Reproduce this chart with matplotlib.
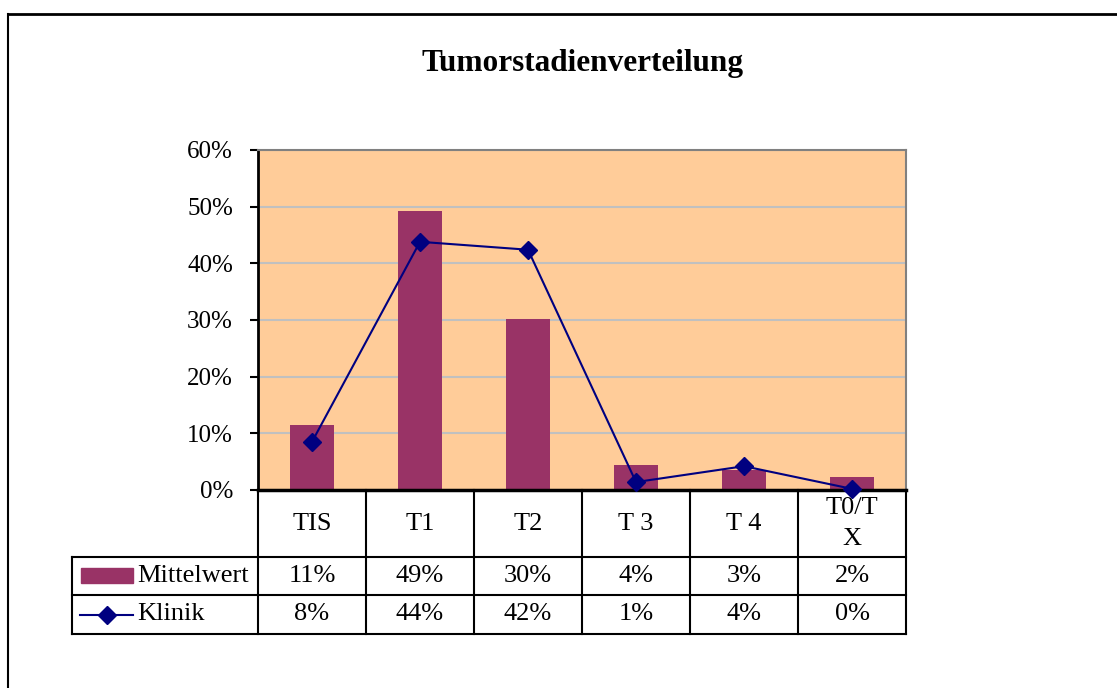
import matplotlib.pyplot as plt
from matplotlib.lines import Line2D
from matplotlib.patches import Rectangle

categories = ['TIS', 'T1', 'T2', 'T 3', 'T 4', 'T0/T\nX']
mittelwert = [11.5, 49.2, 30.2, 4.4, 3.5, 2.3]
klinik = [8.5, 43.8, 42.4, 1.4, 4.2, 0.2]
mittel_labels = ['11%', '49%', '30%', '4%', '3%', '2%']
klinik_labels = ['8%', '44%', '42%', '1%', '4%', '0%']
yticks = [0, 10, 20, 30, 40, 50, 60]

W, H = 1117, 688
BAR = '#993366'
LINE = '#000080'
FONT = 'Liberation Serif'


def fx(px):
    return px / W


def fy(py):
    return 1 - py / H


def main():
    fig = plt.figure(figsize=(W / 100, H / 100), dpi=100)

    # outer chart border (left and top only visible)
    fig.add_artist(Line2D([fx(8), fx(8)], [fy(14), 0], color='black', lw=1.5))
    fig.add_artist(Line2D([fx(8), 1], [fy(14), fy(14)], color='black', lw=2))

    fig.text(fx(583), fy(64), 'Tumorstadienverteilung', ha='center', va='center',
             fontsize=22.5, fontweight='bold', family=FONT)

    # plot area
    left, right, top, bottom = 258, 906, 150, 490
    ax = fig.add_axes([fx(left), fy(bottom), fx(right - left), (bottom - top) / H])
    ax.set_facecolor('#FFCC99')
    x = list(range(len(categories)))
    ax.bar(x, mittelwert, width=0.41, color=BAR, zorder=2)
    ax.plot(x, klinik, color=LINE, lw=1.5, marker='D', markersize=9, zorder=3, clip_on=False)
    ax.set_xlim(-0.5, len(categories) - 0.5)
    ax.set_ylim(0, 60)
    ax.set_yticks(yticks)
    ax.set_yticklabels([f'{v}%' for v in yticks], family=FONT, fontsize=18)
    ax.yaxis.grid(True, color='#c0c0c0', lw=1.5, zorder=1)
    ax.set_axisbelow(True)
    ax.set_xticks([])
    ax.tick_params(axis='y', length=6, width=1.5, direction='out', pad=12)
    ax.spines['left'].set_linewidth(2)
    ax.spines['bottom'].set_linewidth(2.5)
    for s in ['top', 'right']:
        ax.spines[s].set_color('#808080')
        ax.spines[s].set_linewidth(1.5)

    # data table below the plot
    tleft, tbottom = 72, 634
    rows = [490, 557, 595, 634]
    unit = (right - left) / len(categories)
    x0 = -0.5 - (left - tleft) / unit
    tax = fig.add_axes([fx(tleft), fy(tbottom), fx(right - tleft), (tbottom - bottom) / H])
    tax.set_xlim(x0, len(categories) - 0.5)
    tax.set_ylim(tbottom, bottom)
    tax.axis('off')
    kw = dict(color='black', lw=1.5, clip_on=False)
    for i in range(len(categories) + 1):
        tax.plot([i - 0.5, i - 0.5], [rows[0], rows[3]], **kw)
    tax.plot([x0, x0], [rows[1], rows[3]], **kw)
    for r in rows[1:]:
        tax.plot([x0, len(categories) - 0.5], [r, r], **kw)

    tk = dict(ha='center', va='center', family=FONT, fontsize=19)
    for i, c in enumerate(categories):
        tax.text(i, (rows[0] + rows[1]) / 2, c, linespacing=1.5, **tk)
        tax.text(i, (rows[1] + rows[2]) / 2, mittel_labels[i], **tk)
        tax.text(i, (rows[2] + rows[3]) / 2, klinik_labels[i], **tk)

    # legend keys inside the table
    def px(p):
        return x0 + (p - tleft) / unit

    tax.add_patch(Rectangle((px(81), 568), px(133) - px(81), 15, color=BAR, clip_on=False))
    ym = (rows[2] + rows[3]) / 2
    tax.plot([px(80), px(133)], [ym, ym], color=LINE, lw=1.5, clip_on=False)
    tax.plot([px(107)], [ym], color=LINE, marker='D', markersize=9, clip_on=False)
    lk = dict(ha='left', va='center', family=FONT, fontsize=19)
    tax.text(px(137), (rows[1] + rows[2]) / 2, 'Mittelwert', **lk)
    tax.text(px(137), ym, 'Klinik', **lk)

    fig.savefig('out.png', dpi=100)


if __name__ == "__main__":
    main()
